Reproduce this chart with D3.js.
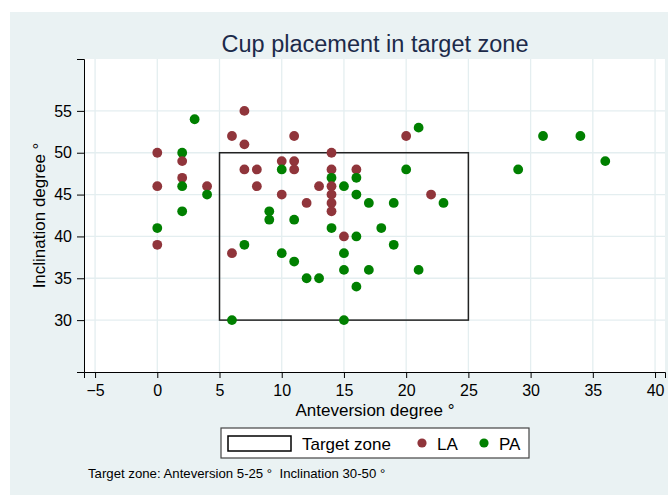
<!DOCTYPE html>
<html>
<head>
<meta charset="utf-8">
<script src="https://cdn.jsdelivr.net/npm/d3@7"></script>
<style>
  body { margin: 0; background: #fff; }
  svg { display: block; font-family: "Liberation Sans", Arial, sans-serif; }
</style>
</head>
<body>
<script>
// cup placement data
var laX = [7,6,7,11,0,2,2,0,4,14,10,11,7,8,11,14,16,8,13,14,10,14,12,14,14,15,0,6,20,22];
var laY = [55,52,51,52,50,49,47,46,46,50,49,49,48,48,48,48,48,46,46,46,45,45,44,44,43,40,39,38,52,45];

var paX = [3,2,2,4,2,0,10,14,16,15,16,17,9,9,11,14,18,16,7,10,11,15,15,17,12,13,16,6,15,21,31,34,20,29,36,23,19,19,21];
var paY = [54,50,46,45,43,41,48,47,47,46,45,44,43,42,42,41,41,40,39,38,37,38,36,36,35,35,34,30,30,53,52,52,48,48,49,44,44,39,36];

var xTicks = [-5,0,5,10,15,20,25,30,35,40];
var yTicks = [30,35,40,45,50,55];
var zoneX = [5,25];   // anteversion
var zoneY = [30,50];  // inclination
var legendLabels = ["Target zone","LA","PA"];

var colLA = "#90353b", colPA = "#008000";

var width = 668, height = 495;
var plot = {left:84, right:665, top:59, bottom:372};

var x = d3.scaleLinear().domain([-5.89, 40.8]).range([plot.left, plot.right]);
var y = d3.scaleLinear().domain([23.8, 61.2]).range([plot.bottom, plot.top]);

var svg = d3.select("body").append("svg").attr("width", width).attr("height", height);

// outer graph region
svg.append("rect").attr("x",10).attr("y",12).attr("width",width-10).attr("height",height-12)
   .attr("fill","#eaf2f3");
svg.append("rect").attr("x",plot.left).attr("y",plot.top)
   .attr("width",plot.right-plot.left).attr("height",plot.bottom-plot.top).attr("fill","#fff");

// grid
svg.append("g").selectAll("line").data(xTicks).enter().append("line")
   .attr("x1",function(d){return x(d);}).attr("x2",function(d){return x(d);})
   .attr("y1",plot.top).attr("y2",plot.bottom)
   .attr("stroke","#e4eef0").attr("stroke-width",1.3);
svg.append("g").selectAll("line").data(yTicks).enter().append("line")
   .attr("y1",function(d){return y(d);}).attr("y2",function(d){return y(d);})
   .attr("x1",plot.left).attr("x2",plot.right)
   .attr("stroke","#e4eef0").attr("stroke-width",1.3);

// target zone
svg.append("rect")
   .attr("x",x(zoneX[0])).attr("y",y(zoneY[1]))
   .attr("width",x(zoneX[1])-x(zoneX[0])).attr("height",y(zoneY[0])-y(zoneY[1]))
   .attr("fill","none").attr("stroke","#222").attr("stroke-width",1.5);

// points (lower ones drawn last, as in the reference)
var pts = [];
laX.forEach(function(d,i){ pts.push({x:d, y:laY[i], c:colLA}); });
paX.forEach(function(d,i){ pts.push({x:d, y:paY[i], c:colPA}); });
pts.sort(function(a,b){ return b.y - a.y; });

svg.append("g").selectAll("circle").data(pts).enter().append("circle")
   .attr("cx",function(d){return x(d.x);})
   .attr("cy",function(d){return y(d.y);})
   .attr("r",4.9)
   .attr("fill",function(d){return d.c;});

// axes
var xAxis = d3.axisBottom(x).tickValues(xTicks).tickSizeOuter(0).tickSize(6).tickPadding(7);
var yAxis = d3.axisLeft(y).tickValues(yTicks).tickSizeOuter(0).tickSize(7).tickPadding(5);

var gx = svg.append("g").attr("transform","translate(0,"+plot.bottom+")").call(xAxis);
var gy = svg.append("g").attr("transform","translate("+plot.left+",0)").call(yAxis);
[gx,gy].forEach(function(g){
  g.selectAll("path,line").attr("stroke","#000");
  g.selectAll("text").attr("fill","#000").style("font-size","16px")
   .style("font-family","'Liberation Sans', Arial, sans-serif");
});

// titles
svg.append("text").attr("x",375).attr("y",52).attr("text-anchor","middle")
   .style("font-size","23.5px").attr("fill","#1c2a4a").text("Cup placement in target zone");
svg.append("text").attr("x",375).attr("y",416).attr("text-anchor","middle")
   .style("font-size","17px").attr("fill","#000").text("Anteversion degree °");
svg.append("text").attr("transform","translate(45,"+((plot.top+plot.bottom)/2)+") rotate(-90)")
   .attr("text-anchor","middle").style("font-size","17px").attr("fill","#000")
   .text("Inclination degree °");

// legend
var lg = svg.append("g");
lg.append("rect").attr("x",221).attr("y",428).attr("width",308).attr("height",30)
  .attr("fill","#fff").attr("stroke","#444").attr("stroke-width",1.2);
lg.append("rect").attr("x",228).attr("y",436).attr("width",63).attr("height",15)
  .attr("fill","#fff").attr("stroke","#000").attr("stroke-width",1.5);
lg.append("text").attr("x",302).attr("y",450).style("font-size","17px").text(legendLabels[0]);
lg.append("circle").attr("cx",422).attr("cy",443).attr("r",4.6).attr("fill",colLA);
lg.append("text").attr("x",437).attr("y",450).style("font-size","17px").text(legendLabels[1]);
lg.append("circle").attr("cx",484).attr("cy",443).attr("r",4.6).attr("fill",colPA);
lg.append("text").attr("x",499).attr("y",450).style("font-size","17px").text(legendLabels[2]);

// note
svg.append("text").attr("x",88).attr("y",478).style("font-size","13.2px").style("white-space","pre")
   .attr("fill","#000").text("Target zone: Anteversion " + zoneX[0] + "-" + zoneX[1] + " °  Inclination " + zoneY[0] + "-" + zoneY[1] + " °");
</script>
</body>
</html>
